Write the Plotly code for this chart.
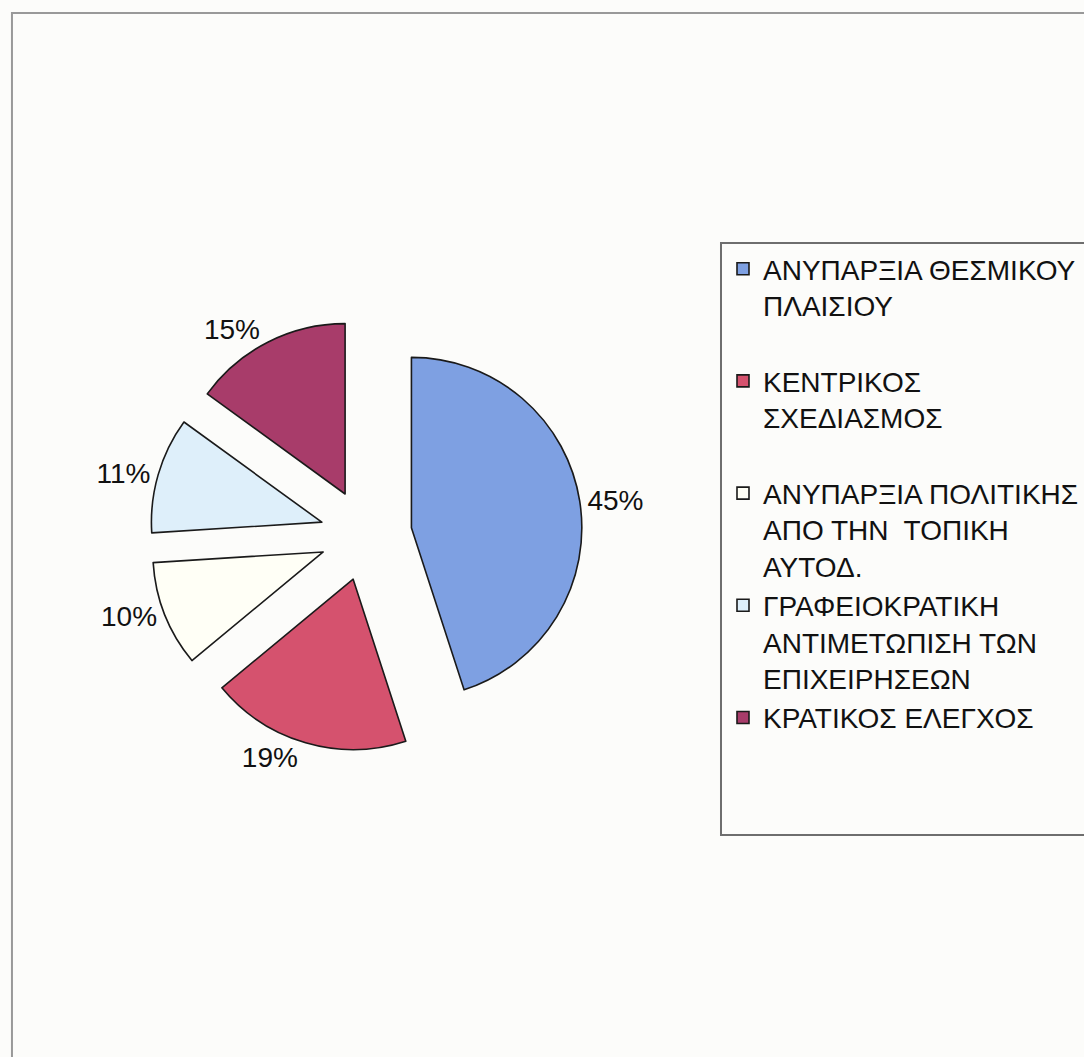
import plotly.graph_objects as go

labels = [
    "ΑΝΥΠΑΡΞΙΑ ΘΕΣΜΙΚΟΥ<br>ΠΛΑΙΣΙΟΥ<br> ",
    "ΚΕΝΤΡΙΚΟΣ<br>ΣΧΕΔΙΑΣΜΟΣ<br> ",
    "ΑΝΥΠΑΡΞΙΑ ΠΟΛΙΤΙΚΗΣ<br>ΑΠΟ ΤΗΝ  ΤΟΠΙΚΗ<br>ΑΥΤΟΔ.",
    "ΓΡΑΦΕΙΟΚΡΑΤΙΚΗ<br>ΑΝΤΙΜΕΤΩΠΙΣΗ ΤΩΝ<br>ΕΠΙΧΕΙΡΗΣΕΩΝ",
    "ΚΡΑΤΙΚΟΣ ΕΛΕΓΧΟΣ",
]
values = [45, 19, 10, 11, 15]
colors = ["#7ea0e2", "#d5526e", "#fffff6", "#deeffa", "#a83c6a"]

W, H = 1084, 1057
cx, cy, half = 367, 535, 217

fig = go.Figure(go.Pie(
    labels=labels,
    values=values,
    sort=False,
    direction="clockwise",
    rotation=0,
    pull=0.27,
    marker=dict(colors=colors, line=dict(color="#1a1a1a", width=1.6)),
    textinfo="percent",
    textposition="outside",
    textfont=dict(family="Liberation Sans, Arial, sans-serif", size=28, color="#111111"),
    domain=dict(x=[(cx - half) / W, (cx + half) / W],
                y=[1 - (cy + half) / H, 1 - (cy - half) / H]),
    hoverinfo="label+percent",
))

fig.update_layout(
    width=W, height=H,
    margin=dict(l=0, r=0, t=0, b=0),
    paper_bgcolor="#fcfcfa",
    plot_bgcolor="#fcfcfa",
    showlegend=True,
    legend=dict(
        x=725 / W, y=1 - 244 / H, xanchor="left", yanchor="top",
        bgcolor="rgba(0,0,0,0)", borderwidth=0,
        font=dict(family="Liberation Sans, Arial, sans-serif", size=28, color="#111111"),
        valign="top",
        traceorder="normal",
    ),
    shapes=[
        dict(type="rect", xref="paper", yref="paper",
             x0=12 / W, x1=1.05, y0=-0.05, y1=1 - 13 / H,
             line=dict(color="#999999", width=2), fillcolor="rgba(0,0,0,0)", layer="below"),
        dict(type="rect", xref="paper", yref="paper",
             x0=723 / W, x1=1.05, y0=1 - 835 / H, y1=1 - 243 / H,
             line=dict(color="#6e6e6e", width=2), fillcolor="rgba(0,0,0,0)", layer="below"),
    ],
)

fig.write_html(
    "out.html",
    config={"displayModeBar": False},
    post_script="document.body.style.margin='0';document.body.style.overflow='hidden';",
)
